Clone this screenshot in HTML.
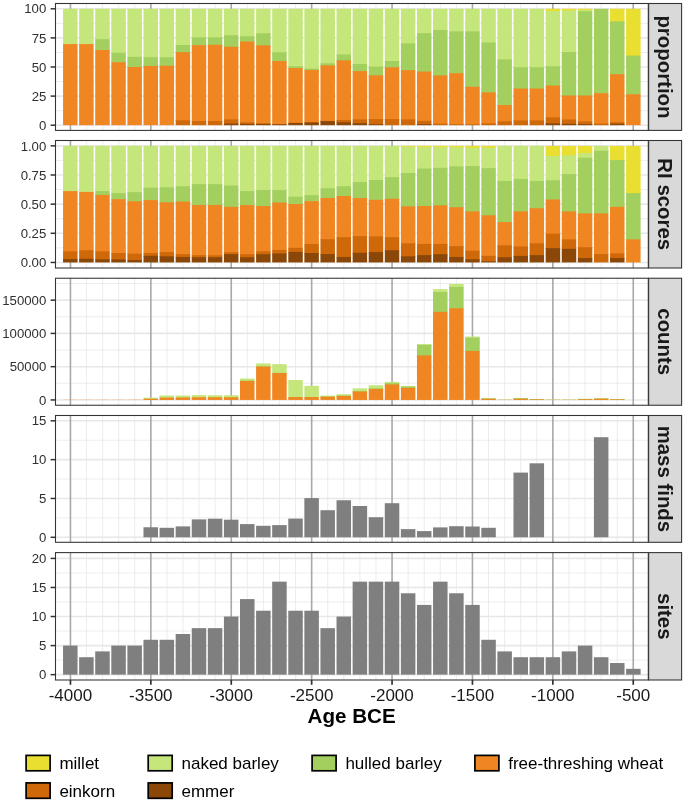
<!DOCTYPE html>
<html><head><meta charset="utf-8"><title>chart</title>
<style>
html,body{margin:0;padding:0;background:#ffffff;}
body{width:685px;height:802px;position:relative;overflow:hidden;font-family:"Liberation Sans",sans-serif;}
svg text{font-family:"Liberation Sans",sans-serif;}
</style></head><body>
<svg width="685" height="802" viewBox="0 0 685 802" style="position:absolute;left:0;top:0;will-change:transform;opacity:0.9999">
<rect x="0" y="0" width="685" height="802" fill="#ffffff"/>
<g>
<rect x="55.5" y="3.5" width="592.8" height="126.9" fill="#ffffff"/>
<line x1="55.5" x2="648.3" y1="110.65" y2="110.65" stroke="#e9e9e9" stroke-width="0.8"/>
<line x1="55.5" x2="648.3" y1="81.55" y2="81.55" stroke="#e9e9e9" stroke-width="0.8"/>
<line x1="55.5" x2="648.3" y1="52.45" y2="52.45" stroke="#e9e9e9" stroke-width="0.8"/>
<line x1="55.5" x2="648.3" y1="23.35" y2="23.35" stroke="#e9e9e9" stroke-width="0.8"/>
<line x1="55.5" x2="648.3" y1="125.20" y2="125.20" stroke="#e8e8e8" stroke-width="1.6"/>
<line x1="55.5" x2="648.3" y1="96.10" y2="96.10" stroke="#e8e8e8" stroke-width="1.6"/>
<line x1="55.5" x2="648.3" y1="67.00" y2="67.00" stroke="#e8e8e8" stroke-width="1.6"/>
<line x1="55.5" x2="648.3" y1="37.90" y2="37.90" stroke="#e8e8e8" stroke-width="1.6"/>
<line x1="55.5" x2="648.3" y1="8.80" y2="8.80" stroke="#e8e8e8" stroke-width="1.6"/>
<line x1="86.53" x2="86.53" y1="3.5" y2="130.4" stroke="#e6e6e6" stroke-width="0.75"/>
<line x1="102.61" x2="102.61" y1="3.5" y2="130.4" stroke="#e6e6e6" stroke-width="0.75"/>
<line x1="118.69" x2="118.69" y1="3.5" y2="130.4" stroke="#e6e6e6" stroke-width="0.75"/>
<line x1="134.77" x2="134.77" y1="3.5" y2="130.4" stroke="#e6e6e6" stroke-width="0.75"/>
<line x1="166.93" x2="166.93" y1="3.5" y2="130.4" stroke="#e6e6e6" stroke-width="0.75"/>
<line x1="183.01" x2="183.01" y1="3.5" y2="130.4" stroke="#e6e6e6" stroke-width="0.75"/>
<line x1="199.09" x2="199.09" y1="3.5" y2="130.4" stroke="#e6e6e6" stroke-width="0.75"/>
<line x1="215.17" x2="215.17" y1="3.5" y2="130.4" stroke="#e6e6e6" stroke-width="0.75"/>
<line x1="247.33" x2="247.33" y1="3.5" y2="130.4" stroke="#e6e6e6" stroke-width="0.75"/>
<line x1="263.41" x2="263.41" y1="3.5" y2="130.4" stroke="#e6e6e6" stroke-width="0.75"/>
<line x1="279.49" x2="279.49" y1="3.5" y2="130.4" stroke="#e6e6e6" stroke-width="0.75"/>
<line x1="295.57" x2="295.57" y1="3.5" y2="130.4" stroke="#e6e6e6" stroke-width="0.75"/>
<line x1="327.73" x2="327.73" y1="3.5" y2="130.4" stroke="#e6e6e6" stroke-width="0.75"/>
<line x1="343.81" x2="343.81" y1="3.5" y2="130.4" stroke="#e6e6e6" stroke-width="0.75"/>
<line x1="359.89" x2="359.89" y1="3.5" y2="130.4" stroke="#e6e6e6" stroke-width="0.75"/>
<line x1="375.97" x2="375.97" y1="3.5" y2="130.4" stroke="#e6e6e6" stroke-width="0.75"/>
<line x1="408.13" x2="408.13" y1="3.5" y2="130.4" stroke="#e6e6e6" stroke-width="0.75"/>
<line x1="424.21" x2="424.21" y1="3.5" y2="130.4" stroke="#e6e6e6" stroke-width="0.75"/>
<line x1="440.29" x2="440.29" y1="3.5" y2="130.4" stroke="#e6e6e6" stroke-width="0.75"/>
<line x1="456.37" x2="456.37" y1="3.5" y2="130.4" stroke="#e6e6e6" stroke-width="0.75"/>
<line x1="488.53" x2="488.53" y1="3.5" y2="130.4" stroke="#e6e6e6" stroke-width="0.75"/>
<line x1="504.61" x2="504.61" y1="3.5" y2="130.4" stroke="#e6e6e6" stroke-width="0.75"/>
<line x1="520.69" x2="520.69" y1="3.5" y2="130.4" stroke="#e6e6e6" stroke-width="0.75"/>
<line x1="536.77" x2="536.77" y1="3.5" y2="130.4" stroke="#e6e6e6" stroke-width="0.75"/>
<line x1="568.93" x2="568.93" y1="3.5" y2="130.4" stroke="#e6e6e6" stroke-width="0.75"/>
<line x1="585.01" x2="585.01" y1="3.5" y2="130.4" stroke="#e6e6e6" stroke-width="0.75"/>
<line x1="601.09" x2="601.09" y1="3.5" y2="130.4" stroke="#e6e6e6" stroke-width="0.75"/>
<line x1="617.17" x2="617.17" y1="3.5" y2="130.4" stroke="#e6e6e6" stroke-width="0.75"/>
<line x1="70.45" x2="70.45" y1="3.5" y2="130.4" stroke="#a8a8a8" stroke-width="1.6"/>
<line x1="150.85" x2="150.85" y1="3.5" y2="130.4" stroke="#a8a8a8" stroke-width="1.6"/>
<line x1="231.25" x2="231.25" y1="3.5" y2="130.4" stroke="#a8a8a8" stroke-width="1.6"/>
<line x1="311.65" x2="311.65" y1="3.5" y2="130.4" stroke="#a8a8a8" stroke-width="1.6"/>
<line x1="392.05" x2="392.05" y1="3.5" y2="130.4" stroke="#a8a8a8" stroke-width="1.6"/>
<line x1="472.45" x2="472.45" y1="3.5" y2="130.4" stroke="#a8a8a8" stroke-width="1.6"/>
<line x1="552.85" x2="552.85" y1="3.5" y2="130.4" stroke="#a8a8a8" stroke-width="1.6"/>
<line x1="633.25" x2="633.25" y1="3.5" y2="130.4" stroke="#a8a8a8" stroke-width="1.6"/>
<rect x="63.05" y="8.80" width="14.5" height="35.97" fill="#c4e67b"/>
<rect x="63.05" y="44.07" width="14.5" height="81.13" fill="#f08622"/>
<rect x="79.14" y="8.80" width="14.5" height="35.97" fill="#c4e67b"/>
<rect x="79.14" y="44.07" width="14.5" height="81.13" fill="#f08622"/>
<rect x="95.22" y="8.80" width="14.5" height="31.08" fill="#c4e67b"/>
<rect x="95.22" y="39.18" width="14.5" height="11.53" fill="#a2cf5d"/>
<rect x="95.22" y="50.01" width="14.5" height="75.19" fill="#f08622"/>
<rect x="111.31" y="8.80" width="14.5" height="44.70" fill="#c4e67b"/>
<rect x="111.31" y="52.80" width="14.5" height="10.13" fill="#a2cf5d"/>
<rect x="111.31" y="62.23" width="14.5" height="62.97" fill="#f08622"/>
<rect x="127.40" y="8.80" width="14.5" height="48.77" fill="#c4e67b"/>
<rect x="127.40" y="56.87" width="14.5" height="10.83" fill="#a2cf5d"/>
<rect x="127.40" y="67.00" width="14.5" height="58.20" fill="#f08622"/>
<rect x="143.49" y="8.80" width="14.5" height="49.12" fill="#c4e67b"/>
<rect x="143.49" y="57.22" width="14.5" height="9.43" fill="#a2cf5d"/>
<rect x="143.49" y="65.95" width="14.5" height="59.25" fill="#f08622"/>
<rect x="159.57" y="8.80" width="14.5" height="49.12" fill="#c4e67b"/>
<rect x="159.57" y="57.22" width="14.5" height="9.20" fill="#a2cf5d"/>
<rect x="159.57" y="65.72" width="14.5" height="59.48" fill="#f08622"/>
<rect x="175.66" y="8.80" width="14.5" height="36.90" fill="#c4e67b"/>
<rect x="175.66" y="45.00" width="14.5" height="7.80" fill="#a2cf5d"/>
<rect x="175.66" y="52.10" width="14.5" height="68.91" fill="#f08622"/>
<rect x="175.66" y="120.31" width="14.5" height="4.89" fill="#cf6809"/>
<rect x="191.75" y="8.80" width="14.5" height="29.22" fill="#c4e67b"/>
<rect x="191.75" y="37.32" width="14.5" height="8.50" fill="#a2cf5d"/>
<rect x="191.75" y="45.12" width="14.5" height="76.59" fill="#f08622"/>
<rect x="191.75" y="121.01" width="14.5" height="4.19" fill="#cf6809"/>
<rect x="207.83" y="8.80" width="14.5" height="29.22" fill="#c4e67b"/>
<rect x="207.83" y="37.32" width="14.5" height="8.15" fill="#a2cf5d"/>
<rect x="207.83" y="44.77" width="14.5" height="76.94" fill="#f08622"/>
<rect x="207.83" y="121.01" width="14.5" height="4.19" fill="#cf6809"/>
<rect x="223.92" y="8.80" width="14.5" height="27.12" fill="#c4e67b"/>
<rect x="223.92" y="35.22" width="14.5" height="12.22" fill="#a2cf5d"/>
<rect x="223.92" y="46.75" width="14.5" height="73.33" fill="#f08622"/>
<rect x="223.92" y="119.38" width="14.5" height="4.89" fill="#cf6809"/>
<rect x="223.92" y="123.57" width="14.5" height="1.63" fill="#8b4708"/>
<rect x="240.01" y="8.80" width="14.5" height="28.17" fill="#c4e67b"/>
<rect x="240.01" y="36.27" width="14.5" height="5.94" fill="#a2cf5d"/>
<rect x="240.01" y="41.51" width="14.5" height="81.60" fill="#f08622"/>
<rect x="240.01" y="122.41" width="14.5" height="2.15" fill="#cf6809"/>
<rect x="240.01" y="123.86" width="14.5" height="1.34" fill="#8b4708"/>
<rect x="256.09" y="8.80" width="14.5" height="25.14" fill="#c4e67b"/>
<rect x="256.09" y="33.24" width="14.5" height="12.81" fill="#a2cf5d"/>
<rect x="256.09" y="45.35" width="14.5" height="78.57" fill="#f08622"/>
<rect x="256.09" y="123.22" width="14.5" height="1.40" fill="#cf6809"/>
<rect x="256.09" y="123.92" width="14.5" height="1.28" fill="#8b4708"/>
<rect x="272.18" y="8.80" width="14.5" height="44.23" fill="#c4e67b"/>
<rect x="272.18" y="52.33" width="14.5" height="9.43" fill="#a2cf5d"/>
<rect x="272.18" y="61.06" width="14.5" height="63.79" fill="#f08622"/>
<rect x="272.18" y="124.15" width="14.5" height="1.05" fill="#8b4708"/>
<rect x="288.27" y="8.80" width="14.5" height="58.20" fill="#c4e67b"/>
<rect x="288.27" y="66.30" width="14.5" height="2.45" fill="#a2cf5d"/>
<rect x="288.27" y="68.05" width="14.5" height="55.52" fill="#f08622"/>
<rect x="288.27" y="122.87" width="14.5" height="2.33" fill="#8b4708"/>
<rect x="304.36" y="8.80" width="14.5" height="60.53" fill="#c4e67b"/>
<rect x="304.36" y="68.63" width="14.5" height="2.10" fill="#a2cf5d"/>
<rect x="304.36" y="70.03" width="14.5" height="52.96" fill="#f08622"/>
<rect x="304.36" y="122.29" width="14.5" height="2.91" fill="#8b4708"/>
<rect x="320.44" y="8.80" width="14.5" height="55.18" fill="#c4e67b"/>
<rect x="320.44" y="63.28" width="14.5" height="2.80" fill="#a2cf5d"/>
<rect x="320.44" y="65.37" width="14.5" height="56.22" fill="#f08622"/>
<rect x="320.44" y="120.89" width="14.5" height="0.93" fill="#cf6809"/>
<rect x="320.44" y="121.13" width="14.5" height="4.07" fill="#8b4708"/>
<rect x="336.53" y="8.80" width="14.5" height="46.33" fill="#c4e67b"/>
<rect x="336.53" y="54.43" width="14.5" height="6.64" fill="#a2cf5d"/>
<rect x="336.53" y="60.37" width="14.5" height="60.30" fill="#f08622"/>
<rect x="336.53" y="119.96" width="14.5" height="3.03" fill="#cf6809"/>
<rect x="336.53" y="122.29" width="14.5" height="2.91" fill="#8b4708"/>
<rect x="352.62" y="8.80" width="14.5" height="55.87" fill="#c4e67b"/>
<rect x="352.62" y="63.97" width="14.5" height="7.80" fill="#a2cf5d"/>
<rect x="352.62" y="71.07" width="14.5" height="49.01" fill="#f08622"/>
<rect x="352.62" y="119.38" width="14.5" height="4.42" fill="#cf6809"/>
<rect x="352.62" y="123.10" width="14.5" height="2.10" fill="#8b4708"/>
<rect x="368.70" y="8.80" width="14.5" height="58.55" fill="#c4e67b"/>
<rect x="368.70" y="66.65" width="14.5" height="9.31" fill="#a2cf5d"/>
<rect x="368.70" y="75.26" width="14.5" height="44.47" fill="#f08622"/>
<rect x="368.70" y="119.03" width="14.5" height="5.88" fill="#cf6809"/>
<rect x="368.70" y="124.21" width="14.5" height="0.99" fill="#8b4708"/>
<rect x="384.79" y="8.80" width="14.5" height="52.96" fill="#c4e67b"/>
<rect x="384.79" y="61.06" width="14.5" height="6.99" fill="#a2cf5d"/>
<rect x="384.79" y="67.35" width="14.5" height="52.38" fill="#f08622"/>
<rect x="384.79" y="119.03" width="14.5" height="6.17" fill="#cf6809"/>
<rect x="400.88" y="8.80" width="14.5" height="35.27" fill="#c4e67b"/>
<rect x="400.88" y="43.37" width="14.5" height="27.47" fill="#a2cf5d"/>
<rect x="400.88" y="70.14" width="14.5" height="49.94" fill="#f08622"/>
<rect x="400.88" y="119.38" width="14.5" height="5.82" fill="#cf6809"/>
<rect x="416.96" y="8.80" width="14.5" height="25.03" fill="#c4e67b"/>
<rect x="416.96" y="33.13" width="14.5" height="39.11" fill="#a2cf5d"/>
<rect x="416.96" y="71.54" width="14.5" height="50.05" fill="#f08622"/>
<rect x="416.96" y="120.89" width="14.5" height="3.96" fill="#cf6809"/>
<rect x="416.96" y="124.15" width="14.5" height="1.05" fill="#8b4708"/>
<rect x="433.05" y="8.80" width="14.5" height="21.88" fill="#c4e67b"/>
<rect x="433.05" y="29.98" width="14.5" height="46.10" fill="#a2cf5d"/>
<rect x="433.05" y="75.38" width="14.5" height="48.95" fill="#f08622"/>
<rect x="433.05" y="123.63" width="14.5" height="1.57" fill="#cf6809"/>
<rect x="449.14" y="8.80" width="14.5" height="23.28" fill="#c4e67b"/>
<rect x="449.14" y="31.38" width="14.5" height="42.49" fill="#a2cf5d"/>
<rect x="449.14" y="73.17" width="14.5" height="51.62" fill="#f08622"/>
<rect x="449.14" y="124.09" width="14.5" height="1.11" fill="#cf6809"/>
<rect x="465.23" y="8.80" width="14.5" height="23.28" fill="#c4e67b"/>
<rect x="465.23" y="31.38" width="14.5" height="56.11" fill="#a2cf5d"/>
<rect x="465.23" y="86.79" width="14.5" height="38.18" fill="#f08622"/>
<rect x="465.23" y="124.27" width="14.5" height="0.93" fill="#cf6809"/>
<rect x="481.31" y="8.80" width="14.5" height="34.46" fill="#c4e67b"/>
<rect x="481.31" y="42.56" width="14.5" height="50.52" fill="#a2cf5d"/>
<rect x="481.31" y="92.38" width="14.5" height="31.66" fill="#f08622"/>
<rect x="481.31" y="123.34" width="14.5" height="1.86" fill="#cf6809"/>
<rect x="497.40" y="8.80" width="14.5" height="51.33" fill="#c4e67b"/>
<rect x="497.40" y="59.43" width="14.5" height="46.33" fill="#a2cf5d"/>
<rect x="497.40" y="105.06" width="14.5" height="17.00" fill="#f08622"/>
<rect x="497.40" y="121.36" width="14.5" height="3.84" fill="#cf6809"/>
<rect x="513.49" y="8.80" width="14.5" height="59.13" fill="#c4e67b"/>
<rect x="513.49" y="67.23" width="14.5" height="22.00" fill="#a2cf5d"/>
<rect x="513.49" y="88.53" width="14.5" height="32.59" fill="#f08622"/>
<rect x="513.49" y="120.43" width="14.5" height="4.77" fill="#cf6809"/>
<rect x="529.57" y="8.80" width="14.5" height="59.13" fill="#c4e67b"/>
<rect x="529.57" y="67.23" width="14.5" height="22.00" fill="#a2cf5d"/>
<rect x="529.57" y="88.53" width="14.5" height="32.59" fill="#f08622"/>
<rect x="529.57" y="120.43" width="14.5" height="4.77" fill="#cf6809"/>
<rect x="545.66" y="8.80" width="14.5" height="2.91" fill="#e9df31"/>
<rect x="545.66" y="11.01" width="14.5" height="55.99" fill="#c4e67b"/>
<rect x="545.66" y="66.30" width="14.5" height="19.91" fill="#a2cf5d"/>
<rect x="545.66" y="85.51" width="14.5" height="32.59" fill="#f08622"/>
<rect x="545.66" y="117.40" width="14.5" height="6.64" fill="#cf6809"/>
<rect x="545.66" y="123.34" width="14.5" height="1.86" fill="#8b4708"/>
<rect x="561.75" y="8.80" width="14.5" height="2.33" fill="#e9df31"/>
<rect x="561.75" y="10.43" width="14.5" height="42.37" fill="#c4e67b"/>
<rect x="561.75" y="52.10" width="14.5" height="44.12" fill="#a2cf5d"/>
<rect x="561.75" y="95.52" width="14.5" height="24.68" fill="#f08622"/>
<rect x="561.75" y="119.50" width="14.5" height="5.01" fill="#cf6809"/>
<rect x="561.75" y="123.80" width="14.5" height="1.40" fill="#8b4708"/>
<rect x="577.83" y="8.80" width="14.5" height="1.98" fill="#e9df31"/>
<rect x="577.83" y="10.08" width="14.5" height="1.86" fill="#c4e67b"/>
<rect x="577.83" y="11.24" width="14.5" height="84.97" fill="#a2cf5d"/>
<rect x="577.83" y="95.52" width="14.5" height="26.54" fill="#f08622"/>
<rect x="577.83" y="121.36" width="14.5" height="3.44" fill="#cf6809"/>
<rect x="577.83" y="124.09" width="14.5" height="1.11" fill="#8b4708"/>
<rect x="593.92" y="8.80" width="14.5" height="85.09" fill="#a2cf5d"/>
<rect x="593.92" y="93.19" width="14.5" height="31.08" fill="#f08622"/>
<rect x="593.92" y="123.57" width="14.5" height="1.63" fill="#cf6809"/>
<rect x="610.01" y="8.80" width="14.5" height="13.27" fill="#e9df31"/>
<rect x="610.01" y="21.37" width="14.5" height="53.55" fill="#a2cf5d"/>
<rect x="610.01" y="74.22" width="14.5" height="48.77" fill="#f08622"/>
<rect x="610.01" y="122.29" width="14.5" height="2.10" fill="#cf6809"/>
<rect x="610.01" y="123.69" width="14.5" height="1.51" fill="#8b4708"/>
<rect x="626.09" y="8.80" width="14.5" height="47.49" fill="#e9df31"/>
<rect x="626.09" y="55.59" width="14.5" height="39.34" fill="#a2cf5d"/>
<rect x="626.09" y="94.24" width="14.5" height="30.96" fill="#f08622"/>
<rect x="55.5" y="3.5" width="592.8" height="126.9" fill="none" stroke="#333333" stroke-width="1.07"/>
<rect x="648.65" y="3.5" width="32.950000000000045" height="126.9" fill="#d9d9d9" stroke="#333333" stroke-width="1.07"/>
<text transform="translate(658.3,66.95) rotate(90)" text-anchor="middle" font-size="20.4" font-weight="bold" fill="#1a1a1a">proportion</text>
<line x1="50.6" x2="55.5" y1="125.20" y2="125.20" stroke="#333333" stroke-width="1.5"/>
<text x="46.3" y="129.85" text-anchor="end" font-size="13.2" fill="#303030">0</text>
<line x1="50.6" x2="55.5" y1="96.10" y2="96.10" stroke="#333333" stroke-width="1.5"/>
<text x="46.3" y="100.75" text-anchor="end" font-size="13.2" fill="#303030">25</text>
<line x1="50.6" x2="55.5" y1="67.00" y2="67.00" stroke="#333333" stroke-width="1.5"/>
<text x="46.3" y="71.65" text-anchor="end" font-size="13.2" fill="#303030">50</text>
<line x1="50.6" x2="55.5" y1="37.90" y2="37.90" stroke="#333333" stroke-width="1.5"/>
<text x="46.3" y="42.55" text-anchor="end" font-size="13.2" fill="#303030">75</text>
<line x1="50.6" x2="55.5" y1="8.80" y2="8.80" stroke="#333333" stroke-width="1.5"/>
<text x="46.3" y="13.45" text-anchor="end" font-size="13.2" fill="#303030">100</text>
</g>
<g>
<rect x="55.5" y="140.5" width="592.8" height="127.5" fill="#ffffff"/>
<line x1="55.5" x2="648.3" y1="247.88" y2="247.88" stroke="#e9e9e9" stroke-width="0.8"/>
<line x1="55.5" x2="648.3" y1="218.72" y2="218.72" stroke="#e9e9e9" stroke-width="0.8"/>
<line x1="55.5" x2="648.3" y1="189.57" y2="189.57" stroke="#e9e9e9" stroke-width="0.8"/>
<line x1="55.5" x2="648.3" y1="160.43" y2="160.43" stroke="#e9e9e9" stroke-width="0.8"/>
<line x1="55.5" x2="648.3" y1="262.45" y2="262.45" stroke="#e8e8e8" stroke-width="1.6"/>
<line x1="55.5" x2="648.3" y1="233.30" y2="233.30" stroke="#e8e8e8" stroke-width="1.6"/>
<line x1="55.5" x2="648.3" y1="204.15" y2="204.15" stroke="#e8e8e8" stroke-width="1.6"/>
<line x1="55.5" x2="648.3" y1="175.00" y2="175.00" stroke="#e8e8e8" stroke-width="1.6"/>
<line x1="55.5" x2="648.3" y1="145.85" y2="145.85" stroke="#e8e8e8" stroke-width="1.6"/>
<line x1="86.53" x2="86.53" y1="140.5" y2="268.0" stroke="#e6e6e6" stroke-width="0.75"/>
<line x1="102.61" x2="102.61" y1="140.5" y2="268.0" stroke="#e6e6e6" stroke-width="0.75"/>
<line x1="118.69" x2="118.69" y1="140.5" y2="268.0" stroke="#e6e6e6" stroke-width="0.75"/>
<line x1="134.77" x2="134.77" y1="140.5" y2="268.0" stroke="#e6e6e6" stroke-width="0.75"/>
<line x1="166.93" x2="166.93" y1="140.5" y2="268.0" stroke="#e6e6e6" stroke-width="0.75"/>
<line x1="183.01" x2="183.01" y1="140.5" y2="268.0" stroke="#e6e6e6" stroke-width="0.75"/>
<line x1="199.09" x2="199.09" y1="140.5" y2="268.0" stroke="#e6e6e6" stroke-width="0.75"/>
<line x1="215.17" x2="215.17" y1="140.5" y2="268.0" stroke="#e6e6e6" stroke-width="0.75"/>
<line x1="247.33" x2="247.33" y1="140.5" y2="268.0" stroke="#e6e6e6" stroke-width="0.75"/>
<line x1="263.41" x2="263.41" y1="140.5" y2="268.0" stroke="#e6e6e6" stroke-width="0.75"/>
<line x1="279.49" x2="279.49" y1="140.5" y2="268.0" stroke="#e6e6e6" stroke-width="0.75"/>
<line x1="295.57" x2="295.57" y1="140.5" y2="268.0" stroke="#e6e6e6" stroke-width="0.75"/>
<line x1="327.73" x2="327.73" y1="140.5" y2="268.0" stroke="#e6e6e6" stroke-width="0.75"/>
<line x1="343.81" x2="343.81" y1="140.5" y2="268.0" stroke="#e6e6e6" stroke-width="0.75"/>
<line x1="359.89" x2="359.89" y1="140.5" y2="268.0" stroke="#e6e6e6" stroke-width="0.75"/>
<line x1="375.97" x2="375.97" y1="140.5" y2="268.0" stroke="#e6e6e6" stroke-width="0.75"/>
<line x1="408.13" x2="408.13" y1="140.5" y2="268.0" stroke="#e6e6e6" stroke-width="0.75"/>
<line x1="424.21" x2="424.21" y1="140.5" y2="268.0" stroke="#e6e6e6" stroke-width="0.75"/>
<line x1="440.29" x2="440.29" y1="140.5" y2="268.0" stroke="#e6e6e6" stroke-width="0.75"/>
<line x1="456.37" x2="456.37" y1="140.5" y2="268.0" stroke="#e6e6e6" stroke-width="0.75"/>
<line x1="488.53" x2="488.53" y1="140.5" y2="268.0" stroke="#e6e6e6" stroke-width="0.75"/>
<line x1="504.61" x2="504.61" y1="140.5" y2="268.0" stroke="#e6e6e6" stroke-width="0.75"/>
<line x1="520.69" x2="520.69" y1="140.5" y2="268.0" stroke="#e6e6e6" stroke-width="0.75"/>
<line x1="536.77" x2="536.77" y1="140.5" y2="268.0" stroke="#e6e6e6" stroke-width="0.75"/>
<line x1="568.93" x2="568.93" y1="140.5" y2="268.0" stroke="#e6e6e6" stroke-width="0.75"/>
<line x1="585.01" x2="585.01" y1="140.5" y2="268.0" stroke="#e6e6e6" stroke-width="0.75"/>
<line x1="601.09" x2="601.09" y1="140.5" y2="268.0" stroke="#e6e6e6" stroke-width="0.75"/>
<line x1="617.17" x2="617.17" y1="140.5" y2="268.0" stroke="#e6e6e6" stroke-width="0.75"/>
<line x1="70.45" x2="70.45" y1="140.5" y2="268.0" stroke="#a8a8a8" stroke-width="1.6"/>
<line x1="150.85" x2="150.85" y1="140.5" y2="268.0" stroke="#a8a8a8" stroke-width="1.6"/>
<line x1="231.25" x2="231.25" y1="140.5" y2="268.0" stroke="#a8a8a8" stroke-width="1.6"/>
<line x1="311.65" x2="311.65" y1="140.5" y2="268.0" stroke="#a8a8a8" stroke-width="1.6"/>
<line x1="392.05" x2="392.05" y1="140.5" y2="268.0" stroke="#a8a8a8" stroke-width="1.6"/>
<line x1="472.45" x2="472.45" y1="140.5" y2="268.0" stroke="#a8a8a8" stroke-width="1.6"/>
<line x1="552.85" x2="552.85" y1="140.5" y2="268.0" stroke="#a8a8a8" stroke-width="1.6"/>
<line x1="633.25" x2="633.25" y1="140.5" y2="268.0" stroke="#a8a8a8" stroke-width="1.6"/>
<rect x="63.05" y="145.85" width="14.5" height="45.94" fill="#c4e67b"/>
<rect x="63.05" y="191.09" width="14.5" height="60.98" fill="#f08622"/>
<rect x="63.05" y="251.37" width="14.5" height="8.40" fill="#cf6809"/>
<rect x="63.05" y="259.07" width="14.5" height="3.38" fill="#8b4708"/>
<rect x="79.14" y="145.85" width="14.5" height="46.76" fill="#c4e67b"/>
<rect x="79.14" y="191.91" width="14.5" height="59.00" fill="#f08622"/>
<rect x="79.14" y="250.21" width="14.5" height="9.21" fill="#cf6809"/>
<rect x="79.14" y="258.72" width="14.5" height="3.73" fill="#8b4708"/>
<rect x="95.22" y="145.85" width="14.5" height="45.94" fill="#c4e67b"/>
<rect x="95.22" y="191.09" width="14.5" height="4.55" fill="#a2cf5d"/>
<rect x="95.22" y="194.94" width="14.5" height="57.13" fill="#f08622"/>
<rect x="95.22" y="251.37" width="14.5" height="8.63" fill="#cf6809"/>
<rect x="95.22" y="259.30" width="14.5" height="3.15" fill="#8b4708"/>
<rect x="111.31" y="145.85" width="14.5" height="48.04" fill="#c4e67b"/>
<rect x="111.31" y="193.19" width="14.5" height="6.65" fill="#a2cf5d"/>
<rect x="111.31" y="199.14" width="14.5" height="54.57" fill="#f08622"/>
<rect x="111.31" y="253.01" width="14.5" height="7.11" fill="#cf6809"/>
<rect x="111.31" y="259.42" width="14.5" height="3.03" fill="#8b4708"/>
<rect x="127.40" y="145.85" width="14.5" height="46.99" fill="#c4e67b"/>
<rect x="127.40" y="192.14" width="14.5" height="9.79" fill="#a2cf5d"/>
<rect x="127.40" y="201.23" width="14.5" height="53.17" fill="#f08622"/>
<rect x="127.40" y="253.70" width="14.5" height="7.00" fill="#cf6809"/>
<rect x="127.40" y="260.00" width="14.5" height="2.45" fill="#8b4708"/>
<rect x="143.49" y="145.85" width="14.5" height="42.56" fill="#c4e67b"/>
<rect x="143.49" y="187.71" width="14.5" height="13.06" fill="#a2cf5d"/>
<rect x="143.49" y="200.07" width="14.5" height="53.64" fill="#f08622"/>
<rect x="143.49" y="253.01" width="14.5" height="3.50" fill="#cf6809"/>
<rect x="143.49" y="255.80" width="14.5" height="6.65" fill="#8b4708"/>
<rect x="159.57" y="145.85" width="14.5" height="42.09" fill="#c4e67b"/>
<rect x="159.57" y="187.24" width="14.5" height="15.74" fill="#a2cf5d"/>
<rect x="159.57" y="202.28" width="14.5" height="50.49" fill="#f08622"/>
<rect x="159.57" y="252.07" width="14.5" height="4.90" fill="#cf6809"/>
<rect x="159.57" y="256.27" width="14.5" height="6.18" fill="#8b4708"/>
<rect x="175.66" y="145.85" width="14.5" height="41.16" fill="#c4e67b"/>
<rect x="175.66" y="186.31" width="14.5" height="15.97" fill="#a2cf5d"/>
<rect x="175.66" y="201.58" width="14.5" height="53.17" fill="#f08622"/>
<rect x="175.66" y="254.05" width="14.5" height="3.61" fill="#cf6809"/>
<rect x="175.66" y="256.97" width="14.5" height="5.48" fill="#8b4708"/>
<rect x="191.75" y="145.85" width="14.5" height="38.94" fill="#c4e67b"/>
<rect x="191.75" y="184.09" width="14.5" height="21.57" fill="#a2cf5d"/>
<rect x="191.75" y="204.97" width="14.5" height="50.84" fill="#f08622"/>
<rect x="191.75" y="255.10" width="14.5" height="2.80" fill="#cf6809"/>
<rect x="191.75" y="257.20" width="14.5" height="5.25" fill="#8b4708"/>
<rect x="207.83" y="145.85" width="14.5" height="38.94" fill="#c4e67b"/>
<rect x="207.83" y="184.09" width="14.5" height="21.57" fill="#a2cf5d"/>
<rect x="207.83" y="204.97" width="14.5" height="50.95" fill="#f08622"/>
<rect x="207.83" y="255.22" width="14.5" height="2.68" fill="#cf6809"/>
<rect x="207.83" y="257.20" width="14.5" height="5.25" fill="#8b4708"/>
<rect x="223.92" y="145.85" width="14.5" height="40.46" fill="#c4e67b"/>
<rect x="223.92" y="185.61" width="14.5" height="21.92" fill="#a2cf5d"/>
<rect x="223.92" y="206.83" width="14.5" height="46.17" fill="#f08622"/>
<rect x="223.92" y="252.31" width="14.5" height="2.57" fill="#cf6809"/>
<rect x="223.92" y="254.17" width="14.5" height="8.28" fill="#8b4708"/>
<rect x="240.01" y="145.85" width="14.5" height="45.94" fill="#c4e67b"/>
<rect x="240.01" y="191.09" width="14.5" height="14.69" fill="#a2cf5d"/>
<rect x="240.01" y="205.08" width="14.5" height="49.79" fill="#f08622"/>
<rect x="240.01" y="254.17" width="14.5" height="3.73" fill="#cf6809"/>
<rect x="240.01" y="257.20" width="14.5" height="5.25" fill="#8b4708"/>
<rect x="256.09" y="145.85" width="14.5" height="44.89" fill="#c4e67b"/>
<rect x="256.09" y="190.04" width="14.5" height="16.67" fill="#a2cf5d"/>
<rect x="256.09" y="206.02" width="14.5" height="46.06" fill="#f08622"/>
<rect x="256.09" y="251.37" width="14.5" height="3.50" fill="#cf6809"/>
<rect x="256.09" y="254.17" width="14.5" height="8.28" fill="#8b4708"/>
<rect x="272.18" y="145.85" width="14.5" height="45.01" fill="#c4e67b"/>
<rect x="272.18" y="190.16" width="14.5" height="13.06" fill="#a2cf5d"/>
<rect x="272.18" y="202.52" width="14.5" height="48.16" fill="#f08622"/>
<rect x="272.18" y="249.97" width="14.5" height="4.20" fill="#cf6809"/>
<rect x="272.18" y="253.47" width="14.5" height="8.98" fill="#8b4708"/>
<rect x="288.27" y="145.85" width="14.5" height="51.54" fill="#c4e67b"/>
<rect x="288.27" y="196.69" width="14.5" height="8.05" fill="#a2cf5d"/>
<rect x="288.27" y="204.03" width="14.5" height="44.54" fill="#f08622"/>
<rect x="288.27" y="247.88" width="14.5" height="4.78" fill="#cf6809"/>
<rect x="288.27" y="251.96" width="14.5" height="10.49" fill="#8b4708"/>
<rect x="304.36" y="145.85" width="14.5" height="50.02" fill="#c4e67b"/>
<rect x="304.36" y="195.17" width="14.5" height="6.65" fill="#a2cf5d"/>
<rect x="304.36" y="201.12" width="14.5" height="43.61" fill="#f08622"/>
<rect x="304.36" y="244.03" width="14.5" height="9.68" fill="#cf6809"/>
<rect x="304.36" y="253.01" width="14.5" height="9.44" fill="#8b4708"/>
<rect x="320.44" y="145.85" width="14.5" height="43.14" fill="#c4e67b"/>
<rect x="320.44" y="188.29" width="14.5" height="10.38" fill="#a2cf5d"/>
<rect x="320.44" y="197.97" width="14.5" height="41.86" fill="#f08622"/>
<rect x="320.44" y="239.13" width="14.5" height="15.62" fill="#cf6809"/>
<rect x="320.44" y="254.05" width="14.5" height="8.40" fill="#8b4708"/>
<rect x="336.53" y="145.85" width="14.5" height="41.16" fill="#c4e67b"/>
<rect x="336.53" y="186.31" width="14.5" height="10.38" fill="#a2cf5d"/>
<rect x="336.53" y="195.99" width="14.5" height="41.86" fill="#f08622"/>
<rect x="336.53" y="237.15" width="14.5" height="20.52" fill="#cf6809"/>
<rect x="336.53" y="256.97" width="14.5" height="5.48" fill="#8b4708"/>
<rect x="352.62" y="145.85" width="14.5" height="36.96" fill="#c4e67b"/>
<rect x="352.62" y="182.11" width="14.5" height="16.67" fill="#a2cf5d"/>
<rect x="352.62" y="198.09" width="14.5" height="38.71" fill="#f08622"/>
<rect x="352.62" y="236.10" width="14.5" height="17.37" fill="#cf6809"/>
<rect x="352.62" y="252.77" width="14.5" height="9.68" fill="#8b4708"/>
<rect x="368.70" y="145.85" width="14.5" height="34.86" fill="#c4e67b"/>
<rect x="368.70" y="180.01" width="14.5" height="20.52" fill="#a2cf5d"/>
<rect x="368.70" y="199.84" width="14.5" height="37.31" fill="#f08622"/>
<rect x="368.70" y="236.45" width="14.5" height="16.32" fill="#cf6809"/>
<rect x="368.70" y="252.07" width="14.5" height="10.38" fill="#8b4708"/>
<rect x="384.79" y="145.85" width="14.5" height="31.95" fill="#c4e67b"/>
<rect x="384.79" y="177.10" width="14.5" height="22.39" fill="#a2cf5d"/>
<rect x="384.79" y="198.79" width="14.5" height="39.06" fill="#f08622"/>
<rect x="384.79" y="237.15" width="14.5" height="13.76" fill="#cf6809"/>
<rect x="384.79" y="250.21" width="14.5" height="12.24" fill="#8b4708"/>
<rect x="400.88" y="145.85" width="14.5" height="1.52" fill="#e9df31"/>
<rect x="400.88" y="146.67" width="14.5" height="27.05" fill="#c4e67b"/>
<rect x="400.88" y="173.02" width="14.5" height="34.05" fill="#a2cf5d"/>
<rect x="400.88" y="206.37" width="14.5" height="37.66" fill="#f08622"/>
<rect x="400.88" y="243.33" width="14.5" height="13.64" fill="#cf6809"/>
<rect x="400.88" y="256.27" width="14.5" height="6.18" fill="#8b4708"/>
<rect x="416.96" y="145.85" width="14.5" height="1.98" fill="#e9df31"/>
<rect x="416.96" y="147.13" width="14.5" height="22.15" fill="#c4e67b"/>
<rect x="416.96" y="168.59" width="14.5" height="38.13" fill="#a2cf5d"/>
<rect x="416.96" y="206.02" width="14.5" height="38.59" fill="#f08622"/>
<rect x="416.96" y="243.91" width="14.5" height="11.89" fill="#cf6809"/>
<rect x="416.96" y="255.10" width="14.5" height="7.35" fill="#8b4708"/>
<rect x="433.05" y="145.85" width="14.5" height="1.98" fill="#e9df31"/>
<rect x="433.05" y="147.13" width="14.5" height="21.45" fill="#c4e67b"/>
<rect x="433.05" y="167.89" width="14.5" height="38.13" fill="#a2cf5d"/>
<rect x="433.05" y="205.32" width="14.5" height="39.29" fill="#f08622"/>
<rect x="433.05" y="243.91" width="14.5" height="10.96" fill="#cf6809"/>
<rect x="433.05" y="254.17" width="14.5" height="8.28" fill="#8b4708"/>
<rect x="449.14" y="145.85" width="14.5" height="2.10" fill="#e9df31"/>
<rect x="449.14" y="147.25" width="14.5" height="19.82" fill="#c4e67b"/>
<rect x="449.14" y="166.37" width="14.5" height="41.51" fill="#a2cf5d"/>
<rect x="449.14" y="207.18" width="14.5" height="39.64" fill="#f08622"/>
<rect x="449.14" y="246.13" width="14.5" height="11.54" fill="#cf6809"/>
<rect x="449.14" y="256.97" width="14.5" height="5.48" fill="#8b4708"/>
<rect x="465.23" y="145.85" width="14.5" height="2.68" fill="#e9df31"/>
<rect x="465.23" y="147.83" width="14.5" height="18.89" fill="#c4e67b"/>
<rect x="465.23" y="166.02" width="14.5" height="46.06" fill="#a2cf5d"/>
<rect x="465.23" y="211.38" width="14.5" height="39.99" fill="#f08622"/>
<rect x="465.23" y="250.67" width="14.5" height="9.33" fill="#cf6809"/>
<rect x="465.23" y="259.30" width="14.5" height="3.15" fill="#8b4708"/>
<rect x="481.31" y="145.85" width="14.5" height="2.57" fill="#e9df31"/>
<rect x="481.31" y="147.72" width="14.5" height="21.10" fill="#c4e67b"/>
<rect x="481.31" y="168.12" width="14.5" height="47.81" fill="#a2cf5d"/>
<rect x="481.31" y="215.23" width="14.5" height="41.28" fill="#f08622"/>
<rect x="481.31" y="255.80" width="14.5" height="6.06" fill="#cf6809"/>
<rect x="481.31" y="261.17" width="14.5" height="1.28" fill="#8b4708"/>
<rect x="497.40" y="145.85" width="14.5" height="35.80" fill="#c4e67b"/>
<rect x="497.40" y="180.95" width="14.5" height="41.86" fill="#a2cf5d"/>
<rect x="497.40" y="222.11" width="14.5" height="23.90" fill="#f08622"/>
<rect x="497.40" y="245.31" width="14.5" height="12.59" fill="#cf6809"/>
<rect x="497.40" y="257.20" width="14.5" height="5.25" fill="#8b4708"/>
<rect x="513.49" y="145.85" width="14.5" height="33.81" fill="#c4e67b"/>
<rect x="513.49" y="178.96" width="14.5" height="33.11" fill="#a2cf5d"/>
<rect x="513.49" y="211.38" width="14.5" height="35.80" fill="#f08622"/>
<rect x="513.49" y="246.48" width="14.5" height="10.14" fill="#cf6809"/>
<rect x="513.49" y="255.92" width="14.5" height="6.53" fill="#8b4708"/>
<rect x="529.57" y="145.85" width="14.5" height="35.80" fill="#c4e67b"/>
<rect x="529.57" y="180.95" width="14.5" height="27.98" fill="#a2cf5d"/>
<rect x="529.57" y="208.23" width="14.5" height="35.68" fill="#f08622"/>
<rect x="529.57" y="243.21" width="14.5" height="12.59" fill="#cf6809"/>
<rect x="529.57" y="255.10" width="14.5" height="7.35" fill="#8b4708"/>
<rect x="545.66" y="145.85" width="14.5" height="10.84" fill="#e9df31"/>
<rect x="545.66" y="155.99" width="14.5" height="24.95" fill="#c4e67b"/>
<rect x="545.66" y="180.25" width="14.5" height="19.94" fill="#a2cf5d"/>
<rect x="545.66" y="199.49" width="14.5" height="34.86" fill="#f08622"/>
<rect x="545.66" y="233.65" width="14.5" height="15.16" fill="#cf6809"/>
<rect x="545.66" y="248.11" width="14.5" height="14.34" fill="#8b4708"/>
<rect x="561.75" y="145.85" width="14.5" height="10.14" fill="#e9df31"/>
<rect x="561.75" y="155.29" width="14.5" height="19.47" fill="#c4e67b"/>
<rect x="561.75" y="174.07" width="14.5" height="38.01" fill="#a2cf5d"/>
<rect x="561.75" y="211.38" width="14.5" height="28.68" fill="#f08622"/>
<rect x="561.75" y="239.36" width="14.5" height="10.14" fill="#cf6809"/>
<rect x="561.75" y="248.81" width="14.5" height="13.64" fill="#8b4708"/>
<rect x="577.83" y="145.85" width="14.5" height="7.93" fill="#e9df31"/>
<rect x="577.83" y="153.08" width="14.5" height="5.36" fill="#c4e67b"/>
<rect x="577.83" y="157.74" width="14.5" height="56.32" fill="#a2cf5d"/>
<rect x="577.83" y="213.36" width="14.5" height="34.51" fill="#f08622"/>
<rect x="577.83" y="247.18" width="14.5" height="11.54" fill="#cf6809"/>
<rect x="577.83" y="258.02" width="14.5" height="4.43" fill="#8b4708"/>
<rect x="593.92" y="145.85" width="14.5" height="5.60" fill="#c4e67b"/>
<rect x="593.92" y="150.75" width="14.5" height="63.31" fill="#a2cf5d"/>
<rect x="593.92" y="213.36" width="14.5" height="41.39" fill="#f08622"/>
<rect x="593.92" y="254.05" width="14.5" height="8.40" fill="#cf6809"/>
<rect x="610.01" y="145.85" width="14.5" height="14.93" fill="#e9df31"/>
<rect x="610.01" y="160.08" width="14.5" height="47.46" fill="#a2cf5d"/>
<rect x="610.01" y="206.83" width="14.5" height="47.22" fill="#f08622"/>
<rect x="610.01" y="253.36" width="14.5" height="5.36" fill="#cf6809"/>
<rect x="610.01" y="258.02" width="14.5" height="4.43" fill="#8b4708"/>
<rect x="626.09" y="145.85" width="14.5" height="47.92" fill="#e9df31"/>
<rect x="626.09" y="193.07" width="14.5" height="46.99" fill="#a2cf5d"/>
<rect x="626.09" y="239.36" width="14.5" height="23.09" fill="#f08622"/>
<rect x="55.5" y="140.5" width="592.8" height="127.5" fill="none" stroke="#333333" stroke-width="1.07"/>
<rect x="648.65" y="140.5" width="32.950000000000045" height="127.5" fill="#d9d9d9" stroke="#333333" stroke-width="1.07"/>
<text transform="translate(658.3,204.25) rotate(90)" text-anchor="middle" font-size="20.4" font-weight="bold" fill="#1a1a1a">RI scores</text>
<line x1="50.6" x2="55.5" y1="262.45" y2="262.45" stroke="#333333" stroke-width="1.5"/>
<text x="46.3" y="267.10" text-anchor="end" font-size="13.2" fill="#303030">0.00</text>
<line x1="50.6" x2="55.5" y1="233.30" y2="233.30" stroke="#333333" stroke-width="1.5"/>
<text x="46.3" y="237.95" text-anchor="end" font-size="13.2" fill="#303030">0.25</text>
<line x1="50.6" x2="55.5" y1="204.15" y2="204.15" stroke="#333333" stroke-width="1.5"/>
<text x="46.3" y="208.80" text-anchor="end" font-size="13.2" fill="#303030">0.50</text>
<line x1="50.6" x2="55.5" y1="175.00" y2="175.00" stroke="#333333" stroke-width="1.5"/>
<text x="46.3" y="179.65" text-anchor="end" font-size="13.2" fill="#303030">0.75</text>
<line x1="50.6" x2="55.5" y1="145.85" y2="145.85" stroke="#333333" stroke-width="1.5"/>
<text x="46.3" y="150.50" text-anchor="end" font-size="13.2" fill="#303030">1.00</text>
</g>
<g>
<rect x="55.5" y="278.25" width="592.8" height="127.0" fill="#ffffff"/>
<line x1="55.5" x2="648.3" y1="383.32" y2="383.32" stroke="#e9e9e9" stroke-width="0.8"/>
<line x1="55.5" x2="648.3" y1="350.05" y2="350.05" stroke="#e9e9e9" stroke-width="0.8"/>
<line x1="55.5" x2="648.3" y1="316.78" y2="316.78" stroke="#e9e9e9" stroke-width="0.8"/>
<line x1="55.5" x2="648.3" y1="283.52" y2="283.52" stroke="#e9e9e9" stroke-width="0.8"/>
<line x1="55.5" x2="648.3" y1="399.95" y2="399.95" stroke="#e8e8e8" stroke-width="1.6"/>
<line x1="55.5" x2="648.3" y1="366.68" y2="366.68" stroke="#e8e8e8" stroke-width="1.6"/>
<line x1="55.5" x2="648.3" y1="333.42" y2="333.42" stroke="#e8e8e8" stroke-width="1.6"/>
<line x1="55.5" x2="648.3" y1="300.15" y2="300.15" stroke="#e8e8e8" stroke-width="1.6"/>
<line x1="86.53" x2="86.53" y1="278.25" y2="405.25" stroke="#e6e6e6" stroke-width="0.75"/>
<line x1="102.61" x2="102.61" y1="278.25" y2="405.25" stroke="#e6e6e6" stroke-width="0.75"/>
<line x1="118.69" x2="118.69" y1="278.25" y2="405.25" stroke="#e6e6e6" stroke-width="0.75"/>
<line x1="134.77" x2="134.77" y1="278.25" y2="405.25" stroke="#e6e6e6" stroke-width="0.75"/>
<line x1="166.93" x2="166.93" y1="278.25" y2="405.25" stroke="#e6e6e6" stroke-width="0.75"/>
<line x1="183.01" x2="183.01" y1="278.25" y2="405.25" stroke="#e6e6e6" stroke-width="0.75"/>
<line x1="199.09" x2="199.09" y1="278.25" y2="405.25" stroke="#e6e6e6" stroke-width="0.75"/>
<line x1="215.17" x2="215.17" y1="278.25" y2="405.25" stroke="#e6e6e6" stroke-width="0.75"/>
<line x1="247.33" x2="247.33" y1="278.25" y2="405.25" stroke="#e6e6e6" stroke-width="0.75"/>
<line x1="263.41" x2="263.41" y1="278.25" y2="405.25" stroke="#e6e6e6" stroke-width="0.75"/>
<line x1="279.49" x2="279.49" y1="278.25" y2="405.25" stroke="#e6e6e6" stroke-width="0.75"/>
<line x1="295.57" x2="295.57" y1="278.25" y2="405.25" stroke="#e6e6e6" stroke-width="0.75"/>
<line x1="327.73" x2="327.73" y1="278.25" y2="405.25" stroke="#e6e6e6" stroke-width="0.75"/>
<line x1="343.81" x2="343.81" y1="278.25" y2="405.25" stroke="#e6e6e6" stroke-width="0.75"/>
<line x1="359.89" x2="359.89" y1="278.25" y2="405.25" stroke="#e6e6e6" stroke-width="0.75"/>
<line x1="375.97" x2="375.97" y1="278.25" y2="405.25" stroke="#e6e6e6" stroke-width="0.75"/>
<line x1="408.13" x2="408.13" y1="278.25" y2="405.25" stroke="#e6e6e6" stroke-width="0.75"/>
<line x1="424.21" x2="424.21" y1="278.25" y2="405.25" stroke="#e6e6e6" stroke-width="0.75"/>
<line x1="440.29" x2="440.29" y1="278.25" y2="405.25" stroke="#e6e6e6" stroke-width="0.75"/>
<line x1="456.37" x2="456.37" y1="278.25" y2="405.25" stroke="#e6e6e6" stroke-width="0.75"/>
<line x1="488.53" x2="488.53" y1="278.25" y2="405.25" stroke="#e6e6e6" stroke-width="0.75"/>
<line x1="504.61" x2="504.61" y1="278.25" y2="405.25" stroke="#e6e6e6" stroke-width="0.75"/>
<line x1="520.69" x2="520.69" y1="278.25" y2="405.25" stroke="#e6e6e6" stroke-width="0.75"/>
<line x1="536.77" x2="536.77" y1="278.25" y2="405.25" stroke="#e6e6e6" stroke-width="0.75"/>
<line x1="568.93" x2="568.93" y1="278.25" y2="405.25" stroke="#e6e6e6" stroke-width="0.75"/>
<line x1="585.01" x2="585.01" y1="278.25" y2="405.25" stroke="#e6e6e6" stroke-width="0.75"/>
<line x1="601.09" x2="601.09" y1="278.25" y2="405.25" stroke="#e6e6e6" stroke-width="0.75"/>
<line x1="617.17" x2="617.17" y1="278.25" y2="405.25" stroke="#e6e6e6" stroke-width="0.75"/>
<line x1="70.45" x2="70.45" y1="278.25" y2="405.25" stroke="#a8a8a8" stroke-width="1.6"/>
<line x1="150.85" x2="150.85" y1="278.25" y2="405.25" stroke="#a8a8a8" stroke-width="1.6"/>
<line x1="231.25" x2="231.25" y1="278.25" y2="405.25" stroke="#a8a8a8" stroke-width="1.6"/>
<line x1="311.65" x2="311.65" y1="278.25" y2="405.25" stroke="#a8a8a8" stroke-width="1.6"/>
<line x1="392.05" x2="392.05" y1="278.25" y2="405.25" stroke="#a8a8a8" stroke-width="1.6"/>
<line x1="472.45" x2="472.45" y1="278.25" y2="405.25" stroke="#a8a8a8" stroke-width="1.6"/>
<line x1="552.85" x2="552.85" y1="278.25" y2="405.25" stroke="#a8a8a8" stroke-width="1.6"/>
<line x1="633.25" x2="633.25" y1="278.25" y2="405.25" stroke="#a8a8a8" stroke-width="1.6"/>
<rect x="63.05" y="399.75" width="14.5" height="0.20" fill="#f08622"/>
<rect x="79.14" y="399.75" width="14.5" height="0.20" fill="#f08622"/>
<rect x="95.22" y="399.75" width="14.5" height="0.20" fill="#f08622"/>
<rect x="111.31" y="399.75" width="14.5" height="0.20" fill="#f08622"/>
<rect x="127.40" y="399.70" width="14.5" height="0.25" fill="#f08622"/>
<rect x="143.49" y="397.75" width="14.5" height="1.70" fill="#c4e67b"/>
<rect x="143.49" y="398.75" width="14.5" height="1.20" fill="#f08622"/>
<rect x="159.57" y="395.55" width="14.5" height="2.80" fill="#c4e67b"/>
<rect x="159.57" y="397.65" width="14.5" height="2.30" fill="#f08622"/>
<rect x="175.66" y="395.55" width="14.5" height="2.65" fill="#c4e67b"/>
<rect x="175.66" y="397.50" width="14.5" height="2.45" fill="#f08622"/>
<rect x="191.75" y="395.05" width="14.5" height="2.90" fill="#c4e67b"/>
<rect x="191.75" y="397.25" width="14.5" height="2.70" fill="#f08622"/>
<rect x="207.83" y="395.25" width="14.5" height="2.70" fill="#c4e67b"/>
<rect x="207.83" y="397.25" width="14.5" height="2.70" fill="#f08622"/>
<rect x="223.92" y="395.25" width="14.5" height="2.70" fill="#c4e67b"/>
<rect x="223.92" y="397.25" width="14.5" height="2.70" fill="#f08622"/>
<rect x="240.01" y="378.55" width="14.5" height="2.80" fill="#c4e67b"/>
<rect x="240.01" y="380.65" width="14.5" height="1.00" fill="#a2cf5d"/>
<rect x="240.01" y="380.95" width="14.5" height="19.00" fill="#f08622"/>
<rect x="256.09" y="363.45" width="14.5" height="3.60" fill="#c4e67b"/>
<rect x="256.09" y="366.35" width="14.5" height="0.90" fill="#a2cf5d"/>
<rect x="256.09" y="366.55" width="14.5" height="33.40" fill="#f08622"/>
<rect x="272.18" y="364.15" width="14.5" height="9.40" fill="#c4e67b"/>
<rect x="272.18" y="372.85" width="14.5" height="0.90" fill="#a2cf5d"/>
<rect x="272.18" y="373.05" width="14.5" height="26.90" fill="#f08622"/>
<rect x="288.27" y="380.05" width="14.5" height="17.70" fill="#c4e67b"/>
<rect x="288.27" y="397.05" width="14.5" height="2.90" fill="#f08622"/>
<rect x="304.36" y="385.85" width="14.5" height="11.90" fill="#c4e67b"/>
<rect x="304.36" y="397.05" width="14.5" height="2.90" fill="#f08622"/>
<rect x="320.44" y="395.65" width="14.5" height="1.70" fill="#c4e67b"/>
<rect x="320.44" y="396.65" width="14.5" height="0.80" fill="#a2cf5d"/>
<rect x="320.44" y="396.75" width="14.5" height="3.20" fill="#f08622"/>
<rect x="336.53" y="394.20" width="14.5" height="2.15" fill="#c4e67b"/>
<rect x="336.53" y="395.65" width="14.5" height="1.00" fill="#a2cf5d"/>
<rect x="336.53" y="395.95" width="14.5" height="4.00" fill="#f08622"/>
<rect x="352.62" y="388.35" width="14.5" height="3.40" fill="#c4e67b"/>
<rect x="352.62" y="391.05" width="14.5" height="1.20" fill="#a2cf5d"/>
<rect x="352.62" y="391.55" width="14.5" height="8.40" fill="#f08622"/>
<rect x="368.70" y="385.25" width="14.5" height="3.80" fill="#c4e67b"/>
<rect x="368.70" y="388.35" width="14.5" height="1.30" fill="#a2cf5d"/>
<rect x="368.70" y="388.95" width="14.5" height="11.00" fill="#f08622"/>
<rect x="384.79" y="381.90" width="14.5" height="1.85" fill="#c4e67b"/>
<rect x="384.79" y="383.05" width="14.5" height="2.10" fill="#a2cf5d"/>
<rect x="384.79" y="384.45" width="14.5" height="15.50" fill="#f08622"/>
<rect x="400.88" y="385.95" width="14.5" height="1.30" fill="#c4e67b"/>
<rect x="400.88" y="386.55" width="14.5" height="2.00" fill="#a2cf5d"/>
<rect x="400.88" y="387.85" width="14.5" height="12.10" fill="#f08622"/>
<rect x="416.96" y="344.20" width="14.5" height="1.25" fill="#c4e67b"/>
<rect x="416.96" y="344.75" width="14.5" height="11.40" fill="#a2cf5d"/>
<rect x="416.96" y="355.45" width="14.5" height="44.50" fill="#f08622"/>
<rect x="433.05" y="289.15" width="14.5" height="3.60" fill="#c4e67b"/>
<rect x="433.05" y="292.05" width="14.5" height="20.50" fill="#a2cf5d"/>
<rect x="433.05" y="311.85" width="14.5" height="88.10" fill="#f08622"/>
<rect x="449.14" y="283.85" width="14.5" height="3.80" fill="#c4e67b"/>
<rect x="449.14" y="286.95" width="14.5" height="22.00" fill="#a2cf5d"/>
<rect x="449.14" y="308.25" width="14.5" height="91.70" fill="#f08622"/>
<rect x="465.23" y="336.55" width="14.5" height="1.80" fill="#c4e67b"/>
<rect x="465.23" y="337.65" width="14.5" height="14.00" fill="#a2cf5d"/>
<rect x="465.23" y="350.95" width="14.5" height="49.00" fill="#f08622"/>
<rect x="481.31" y="398.25" width="14.5" height="0.90" fill="#c4e67b"/>
<rect x="481.31" y="398.45" width="14.5" height="1.05" fill="#a2cf5d"/>
<rect x="481.31" y="398.80" width="14.5" height="1.15" fill="#f08622"/>
<rect x="497.40" y="399.70" width="14.5" height="0.25" fill="#c4e67b"/>
<rect x="497.40" y="399.75" width="14.5" height="0.20" fill="#a2cf5d"/>
<rect x="497.40" y="399.80" width="14.5" height="0.15" fill="#f08622"/>
<rect x="513.49" y="397.95" width="14.5" height="1.00" fill="#c4e67b"/>
<rect x="513.49" y="398.25" width="14.5" height="1.20" fill="#a2cf5d"/>
<rect x="513.49" y="398.75" width="14.5" height="1.20" fill="#f08622"/>
<rect x="529.57" y="398.95" width="14.5" height="0.80" fill="#c4e67b"/>
<rect x="529.57" y="399.05" width="14.5" height="0.90" fill="#a2cf5d"/>
<rect x="529.57" y="399.35" width="14.5" height="0.60" fill="#f08622"/>
<rect x="545.66" y="399.65" width="14.5" height="0.30" fill="#c4e67b"/>
<rect x="545.66" y="399.75" width="14.5" height="0.20" fill="#a2cf5d"/>
<rect x="545.66" y="399.80" width="14.5" height="0.15" fill="#f08622"/>
<rect x="561.75" y="399.65" width="14.5" height="0.30" fill="#c4e67b"/>
<rect x="561.75" y="399.75" width="14.5" height="0.20" fill="#a2cf5d"/>
<rect x="561.75" y="399.80" width="14.5" height="0.15" fill="#f08622"/>
<rect x="577.83" y="398.85" width="14.5" height="0.80" fill="#c4e67b"/>
<rect x="577.83" y="398.95" width="14.5" height="1.00" fill="#a2cf5d"/>
<rect x="577.83" y="399.25" width="14.5" height="0.70" fill="#f08622"/>
<rect x="593.92" y="398.35" width="14.5" height="0.80" fill="#c4e67b"/>
<rect x="593.92" y="398.45" width="14.5" height="1.00" fill="#a2cf5d"/>
<rect x="593.92" y="398.75" width="14.5" height="1.20" fill="#f08622"/>
<rect x="610.01" y="399.15" width="14.5" height="0.75" fill="#c4e67b"/>
<rect x="610.01" y="399.20" width="14.5" height="0.75" fill="#a2cf5d"/>
<rect x="610.01" y="399.35" width="14.5" height="0.60" fill="#f08622"/>
<rect x="55.5" y="278.25" width="592.8" height="127.0" fill="none" stroke="#333333" stroke-width="1.07"/>
<rect x="648.65" y="278.25" width="32.950000000000045" height="127.0" fill="#d9d9d9" stroke="#333333" stroke-width="1.07"/>
<text transform="translate(658.3,341.75) rotate(90)" text-anchor="middle" font-size="20.4" font-weight="bold" fill="#1a1a1a">counts</text>
<line x1="50.6" x2="55.5" y1="399.95" y2="399.95" stroke="#333333" stroke-width="1.5"/>
<text x="46.3" y="404.60" text-anchor="end" font-size="13.2" fill="#303030">0</text>
<line x1="50.6" x2="55.5" y1="366.68" y2="366.68" stroke="#333333" stroke-width="1.5"/>
<text x="46.3" y="371.33" text-anchor="end" font-size="13.2" fill="#303030">50000</text>
<line x1="50.6" x2="55.5" y1="333.42" y2="333.42" stroke="#333333" stroke-width="1.5"/>
<text x="46.3" y="338.07" text-anchor="end" font-size="13.2" fill="#303030">100000</text>
<line x1="50.6" x2="55.5" y1="300.15" y2="300.15" stroke="#333333" stroke-width="1.5"/>
<text x="46.3" y="304.80" text-anchor="end" font-size="13.2" fill="#303030">150000</text>
</g>
<g>
<rect x="55.5" y="415.5" width="592.8" height="126.8" fill="#ffffff"/>
<line x1="55.5" x2="648.3" y1="517.89" y2="517.89" stroke="#e9e9e9" stroke-width="0.8"/>
<line x1="55.5" x2="648.3" y1="479.06" y2="479.06" stroke="#e9e9e9" stroke-width="0.8"/>
<line x1="55.5" x2="648.3" y1="440.24" y2="440.24" stroke="#e9e9e9" stroke-width="0.8"/>
<line x1="55.5" x2="648.3" y1="537.30" y2="537.30" stroke="#e8e8e8" stroke-width="1.6"/>
<line x1="55.5" x2="648.3" y1="498.47" y2="498.47" stroke="#e8e8e8" stroke-width="1.6"/>
<line x1="55.5" x2="648.3" y1="459.65" y2="459.65" stroke="#e8e8e8" stroke-width="1.6"/>
<line x1="55.5" x2="648.3" y1="420.82" y2="420.82" stroke="#e8e8e8" stroke-width="1.6"/>
<line x1="86.53" x2="86.53" y1="415.5" y2="542.3" stroke="#e6e6e6" stroke-width="0.75"/>
<line x1="102.61" x2="102.61" y1="415.5" y2="542.3" stroke="#e6e6e6" stroke-width="0.75"/>
<line x1="118.69" x2="118.69" y1="415.5" y2="542.3" stroke="#e6e6e6" stroke-width="0.75"/>
<line x1="134.77" x2="134.77" y1="415.5" y2="542.3" stroke="#e6e6e6" stroke-width="0.75"/>
<line x1="166.93" x2="166.93" y1="415.5" y2="542.3" stroke="#e6e6e6" stroke-width="0.75"/>
<line x1="183.01" x2="183.01" y1="415.5" y2="542.3" stroke="#e6e6e6" stroke-width="0.75"/>
<line x1="199.09" x2="199.09" y1="415.5" y2="542.3" stroke="#e6e6e6" stroke-width="0.75"/>
<line x1="215.17" x2="215.17" y1="415.5" y2="542.3" stroke="#e6e6e6" stroke-width="0.75"/>
<line x1="247.33" x2="247.33" y1="415.5" y2="542.3" stroke="#e6e6e6" stroke-width="0.75"/>
<line x1="263.41" x2="263.41" y1="415.5" y2="542.3" stroke="#e6e6e6" stroke-width="0.75"/>
<line x1="279.49" x2="279.49" y1="415.5" y2="542.3" stroke="#e6e6e6" stroke-width="0.75"/>
<line x1="295.57" x2="295.57" y1="415.5" y2="542.3" stroke="#e6e6e6" stroke-width="0.75"/>
<line x1="327.73" x2="327.73" y1="415.5" y2="542.3" stroke="#e6e6e6" stroke-width="0.75"/>
<line x1="343.81" x2="343.81" y1="415.5" y2="542.3" stroke="#e6e6e6" stroke-width="0.75"/>
<line x1="359.89" x2="359.89" y1="415.5" y2="542.3" stroke="#e6e6e6" stroke-width="0.75"/>
<line x1="375.97" x2="375.97" y1="415.5" y2="542.3" stroke="#e6e6e6" stroke-width="0.75"/>
<line x1="408.13" x2="408.13" y1="415.5" y2="542.3" stroke="#e6e6e6" stroke-width="0.75"/>
<line x1="424.21" x2="424.21" y1="415.5" y2="542.3" stroke="#e6e6e6" stroke-width="0.75"/>
<line x1="440.29" x2="440.29" y1="415.5" y2="542.3" stroke="#e6e6e6" stroke-width="0.75"/>
<line x1="456.37" x2="456.37" y1="415.5" y2="542.3" stroke="#e6e6e6" stroke-width="0.75"/>
<line x1="488.53" x2="488.53" y1="415.5" y2="542.3" stroke="#e6e6e6" stroke-width="0.75"/>
<line x1="504.61" x2="504.61" y1="415.5" y2="542.3" stroke="#e6e6e6" stroke-width="0.75"/>
<line x1="520.69" x2="520.69" y1="415.5" y2="542.3" stroke="#e6e6e6" stroke-width="0.75"/>
<line x1="536.77" x2="536.77" y1="415.5" y2="542.3" stroke="#e6e6e6" stroke-width="0.75"/>
<line x1="568.93" x2="568.93" y1="415.5" y2="542.3" stroke="#e6e6e6" stroke-width="0.75"/>
<line x1="585.01" x2="585.01" y1="415.5" y2="542.3" stroke="#e6e6e6" stroke-width="0.75"/>
<line x1="601.09" x2="601.09" y1="415.5" y2="542.3" stroke="#e6e6e6" stroke-width="0.75"/>
<line x1="617.17" x2="617.17" y1="415.5" y2="542.3" stroke="#e6e6e6" stroke-width="0.75"/>
<line x1="70.45" x2="70.45" y1="415.5" y2="542.3" stroke="#a8a8a8" stroke-width="1.6"/>
<line x1="150.85" x2="150.85" y1="415.5" y2="542.3" stroke="#a8a8a8" stroke-width="1.6"/>
<line x1="231.25" x2="231.25" y1="415.5" y2="542.3" stroke="#a8a8a8" stroke-width="1.6"/>
<line x1="311.65" x2="311.65" y1="415.5" y2="542.3" stroke="#a8a8a8" stroke-width="1.6"/>
<line x1="392.05" x2="392.05" y1="415.5" y2="542.3" stroke="#a8a8a8" stroke-width="1.6"/>
<line x1="472.45" x2="472.45" y1="415.5" y2="542.3" stroke="#a8a8a8" stroke-width="1.6"/>
<line x1="552.85" x2="552.85" y1="415.5" y2="542.3" stroke="#a8a8a8" stroke-width="1.6"/>
<line x1="633.25" x2="633.25" y1="415.5" y2="542.3" stroke="#a8a8a8" stroke-width="1.6"/>
<rect x="143.49" y="527.25" width="14.5" height="10.05" fill="#7f7f7f"/>
<rect x="159.57" y="527.80" width="14.5" height="9.50" fill="#7f7f7f"/>
<rect x="175.66" y="526.40" width="14.5" height="10.90" fill="#7f7f7f"/>
<rect x="191.75" y="519.40" width="14.5" height="17.90" fill="#7f7f7f"/>
<rect x="207.83" y="518.70" width="14.5" height="18.60" fill="#7f7f7f"/>
<rect x="223.92" y="519.70" width="14.5" height="17.60" fill="#7f7f7f"/>
<rect x="240.01" y="524.10" width="14.5" height="13.20" fill="#7f7f7f"/>
<rect x="256.09" y="525.80" width="14.5" height="11.50" fill="#7f7f7f"/>
<rect x="272.18" y="525.10" width="14.5" height="12.20" fill="#7f7f7f"/>
<rect x="288.27" y="518.60" width="14.5" height="18.70" fill="#7f7f7f"/>
<rect x="304.36" y="498.10" width="14.5" height="39.20" fill="#7f7f7f"/>
<rect x="320.44" y="510.20" width="14.5" height="27.10" fill="#7f7f7f"/>
<rect x="336.53" y="500.25" width="14.5" height="37.05" fill="#7f7f7f"/>
<rect x="352.62" y="506.00" width="14.5" height="31.30" fill="#7f7f7f"/>
<rect x="368.70" y="517.20" width="14.5" height="20.10" fill="#7f7f7f"/>
<rect x="384.79" y="503.20" width="14.5" height="34.10" fill="#7f7f7f"/>
<rect x="400.88" y="529.15" width="14.5" height="8.15" fill="#7f7f7f"/>
<rect x="416.96" y="531.10" width="14.5" height="6.20" fill="#7f7f7f"/>
<rect x="433.05" y="527.40" width="14.5" height="9.90" fill="#7f7f7f"/>
<rect x="449.14" y="526.20" width="14.5" height="11.10" fill="#7f7f7f"/>
<rect x="465.23" y="526.50" width="14.5" height="10.80" fill="#7f7f7f"/>
<rect x="481.31" y="527.80" width="14.5" height="9.50" fill="#7f7f7f"/>
<rect x="513.49" y="472.60" width="14.5" height="64.70" fill="#7f7f7f"/>
<rect x="529.57" y="463.30" width="14.5" height="74.00" fill="#7f7f7f"/>
<rect x="593.92" y="437.20" width="14.5" height="100.10" fill="#7f7f7f"/>
<rect x="55.5" y="415.5" width="592.8" height="126.8" fill="none" stroke="#333333" stroke-width="1.07"/>
<rect x="648.65" y="415.5" width="32.950000000000045" height="126.8" fill="#d9d9d9" stroke="#333333" stroke-width="1.07"/>
<text transform="translate(658.3,478.90) rotate(90)" text-anchor="middle" font-size="20.4" font-weight="bold" fill="#1a1a1a">mass finds</text>
<line x1="50.6" x2="55.5" y1="537.30" y2="537.30" stroke="#333333" stroke-width="1.5"/>
<text x="46.3" y="541.95" text-anchor="end" font-size="13.2" fill="#303030">0</text>
<line x1="50.6" x2="55.5" y1="498.47" y2="498.47" stroke="#333333" stroke-width="1.5"/>
<text x="46.3" y="503.12" text-anchor="end" font-size="13.2" fill="#303030">5</text>
<line x1="50.6" x2="55.5" y1="459.65" y2="459.65" stroke="#333333" stroke-width="1.5"/>
<text x="46.3" y="464.30" text-anchor="end" font-size="13.2" fill="#303030">10</text>
<line x1="50.6" x2="55.5" y1="420.82" y2="420.82" stroke="#333333" stroke-width="1.5"/>
<text x="46.3" y="425.47" text-anchor="end" font-size="13.2" fill="#303030">15</text>
</g>
<g>
<rect x="55.5" y="552.6" width="592.8" height="127.4" fill="#ffffff"/>
<line x1="55.5" x2="648.3" y1="660.12" y2="660.12" stroke="#e9e9e9" stroke-width="0.8"/>
<line x1="55.5" x2="648.3" y1="631.06" y2="631.06" stroke="#e9e9e9" stroke-width="0.8"/>
<line x1="55.5" x2="648.3" y1="602.00" y2="602.00" stroke="#e9e9e9" stroke-width="0.8"/>
<line x1="55.5" x2="648.3" y1="572.94" y2="572.94" stroke="#e9e9e9" stroke-width="0.8"/>
<line x1="55.5" x2="648.3" y1="674.65" y2="674.65" stroke="#e8e8e8" stroke-width="1.6"/>
<line x1="55.5" x2="648.3" y1="645.59" y2="645.59" stroke="#e8e8e8" stroke-width="1.6"/>
<line x1="55.5" x2="648.3" y1="616.53" y2="616.53" stroke="#e8e8e8" stroke-width="1.6"/>
<line x1="55.5" x2="648.3" y1="587.47" y2="587.47" stroke="#e8e8e8" stroke-width="1.6"/>
<line x1="55.5" x2="648.3" y1="558.41" y2="558.41" stroke="#e8e8e8" stroke-width="1.6"/>
<line x1="86.53" x2="86.53" y1="552.6" y2="680.0" stroke="#e6e6e6" stroke-width="0.75"/>
<line x1="102.61" x2="102.61" y1="552.6" y2="680.0" stroke="#e6e6e6" stroke-width="0.75"/>
<line x1="118.69" x2="118.69" y1="552.6" y2="680.0" stroke="#e6e6e6" stroke-width="0.75"/>
<line x1="134.77" x2="134.77" y1="552.6" y2="680.0" stroke="#e6e6e6" stroke-width="0.75"/>
<line x1="166.93" x2="166.93" y1="552.6" y2="680.0" stroke="#e6e6e6" stroke-width="0.75"/>
<line x1="183.01" x2="183.01" y1="552.6" y2="680.0" stroke="#e6e6e6" stroke-width="0.75"/>
<line x1="199.09" x2="199.09" y1="552.6" y2="680.0" stroke="#e6e6e6" stroke-width="0.75"/>
<line x1="215.17" x2="215.17" y1="552.6" y2="680.0" stroke="#e6e6e6" stroke-width="0.75"/>
<line x1="247.33" x2="247.33" y1="552.6" y2="680.0" stroke="#e6e6e6" stroke-width="0.75"/>
<line x1="263.41" x2="263.41" y1="552.6" y2="680.0" stroke="#e6e6e6" stroke-width="0.75"/>
<line x1="279.49" x2="279.49" y1="552.6" y2="680.0" stroke="#e6e6e6" stroke-width="0.75"/>
<line x1="295.57" x2="295.57" y1="552.6" y2="680.0" stroke="#e6e6e6" stroke-width="0.75"/>
<line x1="327.73" x2="327.73" y1="552.6" y2="680.0" stroke="#e6e6e6" stroke-width="0.75"/>
<line x1="343.81" x2="343.81" y1="552.6" y2="680.0" stroke="#e6e6e6" stroke-width="0.75"/>
<line x1="359.89" x2="359.89" y1="552.6" y2="680.0" stroke="#e6e6e6" stroke-width="0.75"/>
<line x1="375.97" x2="375.97" y1="552.6" y2="680.0" stroke="#e6e6e6" stroke-width="0.75"/>
<line x1="408.13" x2="408.13" y1="552.6" y2="680.0" stroke="#e6e6e6" stroke-width="0.75"/>
<line x1="424.21" x2="424.21" y1="552.6" y2="680.0" stroke="#e6e6e6" stroke-width="0.75"/>
<line x1="440.29" x2="440.29" y1="552.6" y2="680.0" stroke="#e6e6e6" stroke-width="0.75"/>
<line x1="456.37" x2="456.37" y1="552.6" y2="680.0" stroke="#e6e6e6" stroke-width="0.75"/>
<line x1="488.53" x2="488.53" y1="552.6" y2="680.0" stroke="#e6e6e6" stroke-width="0.75"/>
<line x1="504.61" x2="504.61" y1="552.6" y2="680.0" stroke="#e6e6e6" stroke-width="0.75"/>
<line x1="520.69" x2="520.69" y1="552.6" y2="680.0" stroke="#e6e6e6" stroke-width="0.75"/>
<line x1="536.77" x2="536.77" y1="552.6" y2="680.0" stroke="#e6e6e6" stroke-width="0.75"/>
<line x1="568.93" x2="568.93" y1="552.6" y2="680.0" stroke="#e6e6e6" stroke-width="0.75"/>
<line x1="585.01" x2="585.01" y1="552.6" y2="680.0" stroke="#e6e6e6" stroke-width="0.75"/>
<line x1="601.09" x2="601.09" y1="552.6" y2="680.0" stroke="#e6e6e6" stroke-width="0.75"/>
<line x1="617.17" x2="617.17" y1="552.6" y2="680.0" stroke="#e6e6e6" stroke-width="0.75"/>
<line x1="70.45" x2="70.45" y1="552.6" y2="680.0" stroke="#a8a8a8" stroke-width="1.6"/>
<line x1="150.85" x2="150.85" y1="552.6" y2="680.0" stroke="#a8a8a8" stroke-width="1.6"/>
<line x1="231.25" x2="231.25" y1="552.6" y2="680.0" stroke="#a8a8a8" stroke-width="1.6"/>
<line x1="311.65" x2="311.65" y1="552.6" y2="680.0" stroke="#a8a8a8" stroke-width="1.6"/>
<line x1="392.05" x2="392.05" y1="552.6" y2="680.0" stroke="#a8a8a8" stroke-width="1.6"/>
<line x1="472.45" x2="472.45" y1="552.6" y2="680.0" stroke="#a8a8a8" stroke-width="1.6"/>
<line x1="552.85" x2="552.85" y1="552.6" y2="680.0" stroke="#a8a8a8" stroke-width="1.6"/>
<line x1="633.25" x2="633.25" y1="552.6" y2="680.0" stroke="#a8a8a8" stroke-width="1.6"/>
<rect x="63.05" y="645.59" width="14.5" height="29.06" fill="#7f7f7f"/>
<rect x="79.14" y="657.21" width="14.5" height="17.44" fill="#7f7f7f"/>
<rect x="95.22" y="651.40" width="14.5" height="23.25" fill="#7f7f7f"/>
<rect x="111.31" y="645.59" width="14.5" height="29.06" fill="#7f7f7f"/>
<rect x="127.40" y="645.59" width="14.5" height="29.06" fill="#7f7f7f"/>
<rect x="143.49" y="639.78" width="14.5" height="34.87" fill="#7f7f7f"/>
<rect x="159.57" y="639.78" width="14.5" height="34.87" fill="#7f7f7f"/>
<rect x="175.66" y="633.97" width="14.5" height="40.68" fill="#7f7f7f"/>
<rect x="191.75" y="628.15" width="14.5" height="46.50" fill="#7f7f7f"/>
<rect x="207.83" y="628.15" width="14.5" height="46.50" fill="#7f7f7f"/>
<rect x="223.92" y="616.53" width="14.5" height="58.12" fill="#7f7f7f"/>
<rect x="240.01" y="599.09" width="14.5" height="75.56" fill="#7f7f7f"/>
<rect x="256.09" y="610.72" width="14.5" height="63.93" fill="#7f7f7f"/>
<rect x="272.18" y="581.66" width="14.5" height="92.99" fill="#7f7f7f"/>
<rect x="288.27" y="610.72" width="14.5" height="63.93" fill="#7f7f7f"/>
<rect x="304.36" y="610.72" width="14.5" height="63.93" fill="#7f7f7f"/>
<rect x="320.44" y="628.15" width="14.5" height="46.50" fill="#7f7f7f"/>
<rect x="336.53" y="616.53" width="14.5" height="58.12" fill="#7f7f7f"/>
<rect x="352.62" y="581.66" width="14.5" height="92.99" fill="#7f7f7f"/>
<rect x="368.70" y="581.66" width="14.5" height="92.99" fill="#7f7f7f"/>
<rect x="384.79" y="581.66" width="14.5" height="92.99" fill="#7f7f7f"/>
<rect x="400.88" y="593.28" width="14.5" height="81.37" fill="#7f7f7f"/>
<rect x="416.96" y="604.91" width="14.5" height="69.74" fill="#7f7f7f"/>
<rect x="433.05" y="581.66" width="14.5" height="92.99" fill="#7f7f7f"/>
<rect x="449.14" y="593.28" width="14.5" height="81.37" fill="#7f7f7f"/>
<rect x="465.23" y="604.91" width="14.5" height="69.74" fill="#7f7f7f"/>
<rect x="481.31" y="639.78" width="14.5" height="34.87" fill="#7f7f7f"/>
<rect x="497.40" y="651.40" width="14.5" height="23.25" fill="#7f7f7f"/>
<rect x="513.49" y="657.21" width="14.5" height="17.44" fill="#7f7f7f"/>
<rect x="529.57" y="657.21" width="14.5" height="17.44" fill="#7f7f7f"/>
<rect x="545.66" y="657.21" width="14.5" height="17.44" fill="#7f7f7f"/>
<rect x="561.75" y="651.40" width="14.5" height="23.25" fill="#7f7f7f"/>
<rect x="577.83" y="645.59" width="14.5" height="29.06" fill="#7f7f7f"/>
<rect x="593.92" y="657.21" width="14.5" height="17.44" fill="#7f7f7f"/>
<rect x="610.01" y="663.03" width="14.5" height="11.62" fill="#7f7f7f"/>
<rect x="626.09" y="668.84" width="14.5" height="5.81" fill="#7f7f7f"/>
<rect x="55.5" y="552.6" width="592.8" height="127.4" fill="none" stroke="#333333" stroke-width="1.07"/>
<rect x="648.65" y="552.6" width="32.950000000000045" height="127.4" fill="#d9d9d9" stroke="#333333" stroke-width="1.07"/>
<text transform="translate(658.3,616.30) rotate(90)" text-anchor="middle" font-size="20.4" font-weight="bold" fill="#1a1a1a">sites</text>
<line x1="50.6" x2="55.5" y1="674.65" y2="674.65" stroke="#333333" stroke-width="1.5"/>
<text x="46.3" y="679.30" text-anchor="end" font-size="13.2" fill="#303030">0</text>
<line x1="50.6" x2="55.5" y1="645.59" y2="645.59" stroke="#333333" stroke-width="1.5"/>
<text x="46.3" y="650.24" text-anchor="end" font-size="13.2" fill="#303030">5</text>
<line x1="50.6" x2="55.5" y1="616.53" y2="616.53" stroke="#333333" stroke-width="1.5"/>
<text x="46.3" y="621.18" text-anchor="end" font-size="13.2" fill="#303030">10</text>
<line x1="50.6" x2="55.5" y1="587.47" y2="587.47" stroke="#333333" stroke-width="1.5"/>
<text x="46.3" y="592.12" text-anchor="end" font-size="13.2" fill="#303030">15</text>
<line x1="50.6" x2="55.5" y1="558.41" y2="558.41" stroke="#333333" stroke-width="1.5"/>
<text x="46.3" y="563.06" text-anchor="end" font-size="13.2" fill="#303030">20</text>
</g>
<line x1="70.45" x2="70.45" y1="680.0" y2="684.80" stroke="#333333" stroke-width="1.7"/>
<text x="70.45" y="701.3" text-anchor="middle" font-size="17" fill="#1a1a1a">-4000</text>
<line x1="150.85" x2="150.85" y1="680.0" y2="684.80" stroke="#333333" stroke-width="1.7"/>
<text x="150.85" y="701.3" text-anchor="middle" font-size="17" fill="#1a1a1a">-3500</text>
<line x1="231.25" x2="231.25" y1="680.0" y2="684.80" stroke="#333333" stroke-width="1.7"/>
<text x="231.25" y="701.3" text-anchor="middle" font-size="17" fill="#1a1a1a">-3000</text>
<line x1="311.65" x2="311.65" y1="680.0" y2="684.80" stroke="#333333" stroke-width="1.7"/>
<text x="311.65" y="701.3" text-anchor="middle" font-size="17" fill="#1a1a1a">-2500</text>
<line x1="392.05" x2="392.05" y1="680.0" y2="684.80" stroke="#333333" stroke-width="1.7"/>
<text x="392.05" y="701.3" text-anchor="middle" font-size="17" fill="#1a1a1a">-2000</text>
<line x1="472.45" x2="472.45" y1="680.0" y2="684.80" stroke="#333333" stroke-width="1.7"/>
<text x="472.45" y="701.3" text-anchor="middle" font-size="17" fill="#1a1a1a">-1500</text>
<line x1="552.85" x2="552.85" y1="680.0" y2="684.80" stroke="#333333" stroke-width="1.7"/>
<text x="552.85" y="701.3" text-anchor="middle" font-size="17" fill="#1a1a1a">-1000</text>
<line x1="633.25" x2="633.25" y1="680.0" y2="684.80" stroke="#333333" stroke-width="1.7"/>
<text x="633.25" y="701.3" text-anchor="middle" font-size="17" fill="#1a1a1a">-500</text>
<text x="351.6" y="723.0" text-anchor="middle" font-size="20.6" font-weight="bold" fill="#000000">Age BCE</text>
<rect x="26.1" y="755.4" width="24.0" height="15.4" fill="#e9df31" stroke="#000000" stroke-width="1.7"/>
<text x="59.4" y="769.1" font-size="17" fill="#000000">millet</text>
<rect x="148.20000000000002" y="755.4" width="24.0" height="15.4" fill="#c4e67b" stroke="#000000" stroke-width="1.7"/>
<text x="181.5" y="769.1" font-size="17" fill="#000000">naked barley</text>
<rect x="312.1" y="755.4" width="24.0" height="15.4" fill="#a2cf5d" stroke="#000000" stroke-width="1.7"/>
<text x="345.4" y="769.1" font-size="17" fill="#000000">hulled barley</text>
<rect x="474.90000000000003" y="755.4" width="24.0" height="15.4" fill="#f08622" stroke="#000000" stroke-width="1.7"/>
<text x="508.2" y="769.1" font-size="17" fill="#000000">free-threshing wheat</text>
<rect x="26.1" y="782.9" width="24.0" height="15.4" fill="#cf6809" stroke="#000000" stroke-width="1.7"/>
<text x="59.4" y="796.6" font-size="17" fill="#000000">einkorn</text>
<rect x="148.20000000000002" y="782.9" width="24.0" height="15.4" fill="#8b4708" stroke="#000000" stroke-width="1.7"/>
<text x="181.5" y="796.6" font-size="17" fill="#000000">emmer</text>
</svg>
</body></html>
